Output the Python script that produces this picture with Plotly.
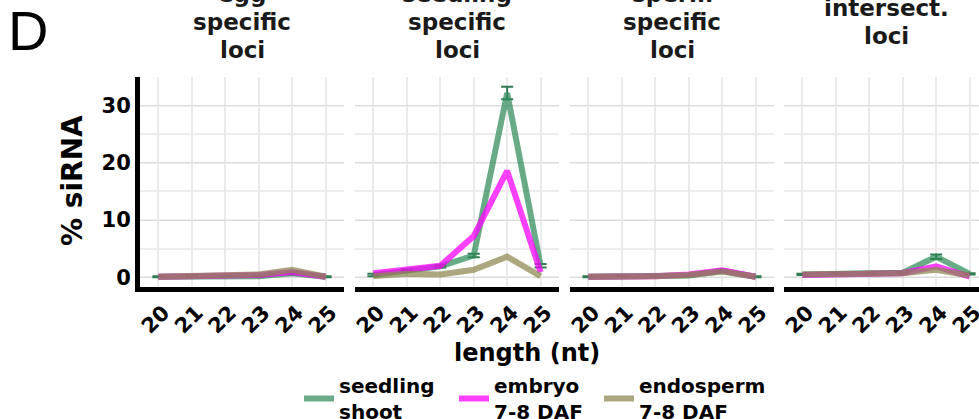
import plotly.graph_objects as go

W, H = 979, 419

lengths = [20, 21, 22, 23, 24, 25]
panels = ["egg<br>specific<br>loci", "seedling<br>specific<br>loci",
          "sperm<br>specific<br>loci", "intersect.<br>loci"]

series_names = ["seedling<br>shoot", "embryo<br>7-8 DAF", "endosperm<br>7-8 DAF"]

seedling_vals = [
    [0.1, 0.2, 0.2, 0.2, 0.7, 0.1],
    [0.4, 1.2, 1.9, 3.8, 32.2, 2.0],
    [0.1, 0.2, 0.2, 0.3, 1.1, 0.1],
    [0.5, 0.7, 0.7, 0.8, 3.6, 0.6],
]
seedling_err = [
    [0.1, 0.1, 0.1, 0.1, 0.2, 0.1],
    [0.2, 0.2, 0.2, 0.3, 1.1, 0.3],
    [0.1, 0.1, 0.1, 0.1, 0.2, 0.1],
    [0.1, 0.1, 0.1, 0.1, 0.4, 0.1],
]
embryo_vals = [
    [0.1, 0.2, 0.2, 0.4, 0.9, 0.1],
    [0.7, 1.4, 2.0, 7.2, 18.6, 0.9],
    [0.1, 0.1, 0.2, 0.5, 1.2, 0.1],
    [0.4, 0.5, 0.6, 0.7, 1.9, 0.1],
]
endosperm_vals = [
    [0.1, 0.2, 0.2, 0.5, 1.3, 0.1],
    [0.2, 0.6, 0.5, 1.3, 3.6, 0.2],
    [0.1, 0.1, 0.2, 0.4, 1.0, 0.1],
    [0.5, 0.6, 0.6, 0.7, 1.3, 0.3],
]

colors = ["rgba(46,139,87,0.72)", "rgba(255,0,255,0.75)", "rgba(139,134,78,0.72)"]
err_color = "#2e7d50"

y_ticks = [0, 10, 20, 30]
y_range = [-1.7, 35.05]

FONT = "DejaVu Sans"

panel_left = [140, 355, 570, 784]
panel_w = 204
px_per_unit = panel_w / 6.1
top_px, bot_px = 76.7, 287
legend_x = [299, 454, 599]
legend_keys = ["legend", "legend2", "legend3"]

fig = go.Figure()

all_vals = [seedling_vals, embryo_vals, endosperm_vals]
for p in range(4):
    xa = "x" if p == 0 else f"x{p+1}"
    ya = "y" if p == 0 else f"y{p+1}"
    for s in range(3):
        tr = dict(x=lengths, y=all_vals[s][p], mode="lines",
                  line=dict(color=colors[s], width=6),
                  name=series_names[s], legendgroup=series_names[s],
                  showlegend=(p == 0), xaxis=xa, yaxis=ya,
                  legend=legend_keys[s])
        if s == 0:
            tr["error_y"] = dict(type="data", array=seedling_err[p], color=err_color,
                                 thickness=2, width=6)
        fig.add_trace(go.Scatter(**tr))

layout = {}
for p in range(4):
    left = panel_left[p]
    right = min(left + panel_w, W)
    xr = [19.45, 19.45 + (right - left) / px_per_unit]
    xkey = "xaxis" if p == 0 else f"xaxis{p+1}"
    ykey = "yaxis" if p == 0 else f"yaxis{p+1}"
    layout[xkey] = dict(
        domain=[left / W, right / W], range=xr, tickvals=lengths,
        ticktext=[str(v) for v in lengths], tickangle=-45,
        ticklabelshift=5, ticklabeloverflow="allow",
        showline=True, linecolor="black", linewidth=5, mirror=False,
        showgrid=True, gridcolor="#ebebeb", gridwidth=1.5, zeroline=False,
        ticks="", tickfont=dict(family=FONT, size=21, color="black", weight="bold"),
        anchor="y" if p == 0 else f"y{p+1}", automargin=False, fixedrange=True)
    layout[ykey] = dict(
        domain=[1 - bot_px / H, 1 - top_px / H], range=y_range, tickvals=y_ticks,
        showticklabels=(p == 0), showline=(p == 0), linecolor="black", linewidth=5,
        showgrid=True, gridcolor="#dcdcdc", gridwidth=1, zeroline=False,
        minor=dict(dtick=5, tick0=0, showgrid=True, gridcolor="#ededed", gridwidth=1.5),
        ticks="", tickfont=dict(family=FONT, size=21, color="black", weight="bold"),
        anchor="x" if p == 0 else f"x{p+1}", automargin=False, fixedrange=True)

annotations = []
for p, t in enumerate(panels):
    lines = t.split("<br>")
    n = len(lines)
    cx = panel_left[p] + panel_w / 2
    for i, ln in enumerate(lines):
        cy = 22 + (i - (n - 1) / 2) * 28
        annotations.append(dict(text=ln, x=cx / W, y=1 - cy / H, xref="paper", yref="paper",
                                xanchor="center", yanchor="middle", showarrow=False,
                                font=dict(family=FONT, size=23, color="#1a1a1a", weight="bold")))
annotations.append(dict(text="D", x=6 / W, y=1 - 31 / H, xref="paper", yref="paper",
                        xanchor="left", yanchor="middle", showarrow=False,
                        font=dict(family="Liberation Sans", size=56, color="black")))
annotations.append(dict(text="% siRNA", x=72 / W, y=1 - 181 / H, xref="paper", yref="paper",
                        xanchor="center", yanchor="middle", showarrow=False, textangle=-90,
                        font=dict(family=FONT, size=28, color="black", weight="bold")))
annotations.append(dict(text="length (nt)", x=527 / W, y=1 - 353 / H, xref="paper", yref="paper",
                        xanchor="center", yanchor="middle", showarrow=False,
                        font=dict(family=FONT, size=24, color="black", weight="bold")))

legends = {}
for k, key in enumerate(legend_keys):
    legends[key] = dict(orientation="h", x=legend_x[k] / W, y=1 - 366 / H,
                        xanchor="left", yanchor="top",
                        font=dict(family=FONT, size=20, color="black", weight="bold"),
                        itemwidth=30, bgcolor="rgba(0,0,0,0)")

fig.update_layout(
    width=W, height=H, margin=dict(l=0, r=0, t=0, b=0, autoexpand=False),
    plot_bgcolor="white", paper_bgcolor="white",
    annotations=annotations,
    **legends,
    **layout,
)

fig.write_html("out.html", config={"displayModeBar": False})
